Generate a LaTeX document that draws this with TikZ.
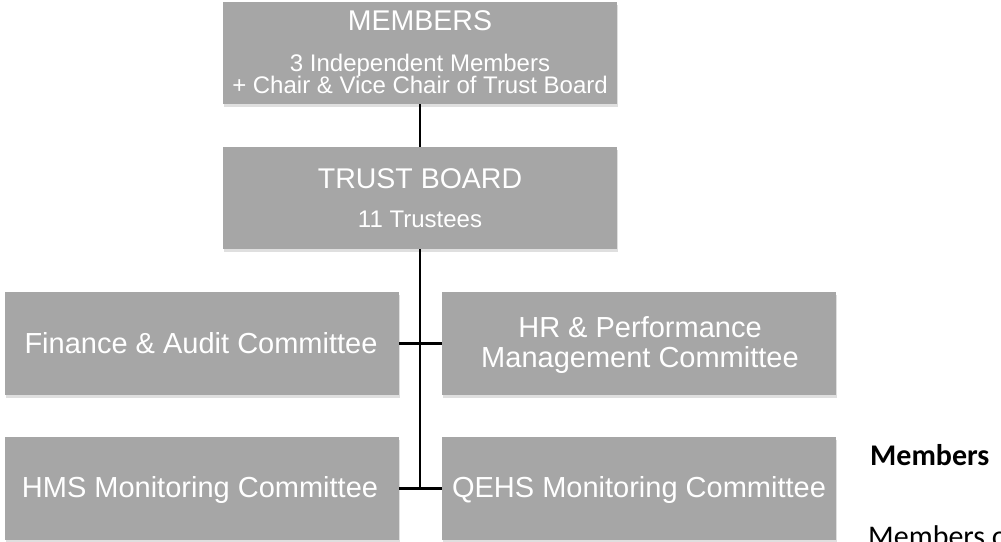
\documentclass[tikz,border=0pt]{standalone}
\usepackage{fontspec}
\setmainfont{Liberation Sans}
\newfontfamily\carlito{Carlito}
\usetikzlibrary{shadows}
\definecolor{boxgray}{HTML}{A6A6A6}
\begin{document}
\begin{tikzpicture}[x=1pt,y=-1pt,
  box/.style={fill=boxgray, draw=none, inner sep=0pt, minimum width=394pt, minimum height=103pt,
    drop shadow={shadow xshift=1pt, shadow yshift=-3pt, opacity=0.25}},
  bigtxt/.style={text=white, inner sep=0pt, anchor=base, font=\fontsize{28.5}{30}\selectfont},
  smalltxt/.style={text=white, inner sep=0pt, anchor=base, font=\fontsize{24}{26}\selectfont},
  comtxt/.style={text=white, inner sep=0pt, anchor=base, font=\fontsize{29}{30}\selectfont},
  notetxt/.style={text=black, inner sep=0pt, anchor=base west, font=\carlito\fontsize{30}{32}\selectfont},
  link/.style={line width=2.5pt, black}]
\clip (0,0) rectangle (1001,541);
\fill[white] (0,0) rectangle (1001,541);
% boxes
\node[box, minimum height=102pt] (members) at (420,53) {};
\node[box, minimum height=102pt] (trust) at (420,198) {};
\node[box] (finance) at (202,343.5) {};
\node[box] (hr) at (639,343.5) {};
\node[box] (hms) at (202,488.5) {};
\node[box] (qehs) at (639,488.5) {};
% connectors
\draw[link] (members.south) -- (trust.north);
\coordinate (jend) at (trust.south |- hms.east);
\draw[link] (trust.south) -- (jend);
\draw[link] (finance.east) -- (hr.west);
\draw[link] (hms.east) -- (qehs.west);
% texts
\node[bigtxt] (membersT) at (420,30) {MEMBERS};
\node[smalltxt] (membersA) at (420,71) {3 Independent Members};
\node[smalltxt] (membersB) at (420,93) {+ Chair \& Vice Chair of Trust Board};
\node[bigtxt] (trustT) at (420,188) {TRUST BOARD};
\node[smalltxt] (trustA) at (420,227) {11 Trustees};
\node[comtxt] (financeT) at (201,353) {Finance \& Audit Committee};
\node[comtxt] (hrT) at (640,337) {HR \& Performance};
\node[comtxt] (hrB) at (640,367) {Management Committee};
\node[comtxt] (hmsT) at (200,497) {HMS Monitoring Committee};
\node[comtxt] (qehsT) at (639,497) {QEHS Monitoring Committee};
\node[notetxt, font=\carlito\bfseries\fontsize{30}{32}\selectfont] (noteA) at (870,465) {Members};
\node[notetxt] (noteB) at (868,546) {Members of};
\end{tikzpicture}
\end{document}
